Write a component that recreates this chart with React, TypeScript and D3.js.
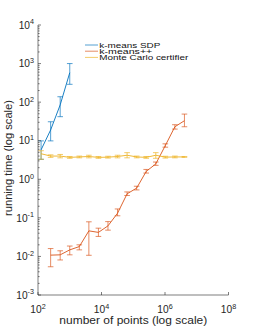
import React from "react";
import * as d3 from "d3";

const sdpN = [125, 250, 500, 1000];
const sdpT = [5.8, 19, 85, 580];
const sdpLo = [3.3, 9.9, 42, 290];
const sdpHi = [9.9, 31, 138, 1000];

const kppN = [250, 500, 1000, 2000, 4000, 8000, 16000, 32000, 64000, 128000, 256000, 512000, 1024000, 2048000, 4096000];
const kppT = [0.0108, 0.011, 0.0148, 0.018, 0.046, 0.042, 0.062, 0.132, 0.42, 0.59, 1.6, 2.5, 7.5, 23, 33];
const kppLo = [0.0054, 0.0081, 0.011, 0.0148, 0.0107, 0.033, 0.048, 0.113, 0.38, 0.53, 1.45, 2.3, 6.8, 20, 23];
const kppHi = [0.016, 0.014, 0.0186, 0.02, 0.079, 0.054, 0.08, 0.17, 0.47, 0.66, 1.8, 2.8, 8.3, 26, 49];

const mcN = [125, 250, 500, 1000, 2000, 4000, 8000, 16000, 32000, 64000, 128000, 256000, 512000, 1024000, 2048000, 4096000];
const mcT = [4.6, 4.0, 4.0, 3.7, 3.8, 3.9, 3.7, 3.75, 3.9, 4.2, 3.8, 3.7, 4.2, 3.75, 3.8, 3.8];
const mcLo = [3.3, 3.7, 3.6, 3.5, 3.6, 3.6, 3.5, 3.55, 3.6, 3.6, 3.6, 3.5, 3.5, 3.55, 3.6, 3.7];
const mcHi = [5.5, 4.3, 4.4, 3.9, 4.0, 4.2, 3.9, 3.95, 4.2, 4.9, 4.0, 3.9, 4.9, 3.95, 4.0, 3.9];

const xTickExps = [2, 4, 6, 8];
const yTickExps = [-3, -2, -1, 0, 1, 2, 3, 4];
const seriesNames = ["k-means SDP", "k-means++", "Monte Carlo certifier"];
const legendWidths = [61, 53, 89];
const seriesColors = ["#0072BD", "#D95319", "#EDB120"];

const FONT = "'Liberation Sans', Arial, Helvetica, sans-serif";

export default function App() {
  const x = d3.scaleLog().domain([1e2, 1e8]).range([38, 228.5]);
  const y = d3.scaleLog().domain([1e-3, 1e4]).range([295, 25]);
  const axisColor = "#262626";

  const series = [
    { n: sdpN, t: sdpT, lo: sdpLo, hi: sdpHi },
    { n: kppN, t: kppT, lo: kppLo, hi: kppHi },
    { n: mcN, t: mcT, lo: mcLo, hi: mcHi },
  ];

  const line = d3
    .line<[number, number]>()
    .x((d) => x(d[0]))
    .y((d) => y(d[1]));

  const minorY: number[] = [];
  for (let e = -3; e < 4; e++) {
    for (let k = 2; k <= 9; k++) minorY.push(k * Math.pow(10, e));
  }

  const cap = 2.8;

  return (
    <svg width={254} height={332} style={{ position: "absolute", left: 0, top: 0 }}>
      <rect width={254} height={332} fill="#fff" />
      {series.map((s, si) => (
        <g key={si} stroke={seriesColors[si]} fill="none" strokeWidth={0.9}>
          <path d={line(s.n.map((n, i) => [n, s.t[i]] as [number, number])) || ""} />
          {s.n.map((n, i) => {
            const cx = x(n);
            const y1 = y(s.lo[i]);
            const y2 = y(s.hi[i]);
            return (
              <g key={i} strokeOpacity={0.75}>
                <line x1={cx} x2={cx} y1={y1} y2={y2} />
                <line x1={cx - cap} x2={cx + cap} y1={y1} y2={y1} />
                <line x1={cx - cap} x2={cx + cap} y1={y2} y2={y2} />
              </g>
            );
          })}
        </g>
      ))}
      <g stroke={axisColor} strokeWidth={0.6} fill="none">
        <line x1={38} x2={38} y1={25} y2={295} />
        <line x1={38} x2={228.5} y1={295} y2={295} />
        {yTickExps.map((e) => (
          <line key={e} x1={38} x2={41} y1={y(Math.pow(10, e))} y2={y(Math.pow(10, e))} />
        ))}
        {minorY.map((v, i) => (
          <line key={i} x1={38} x2={39.6} y1={y(v)} y2={y(v)} />
        ))}
        {xTickExps.map((e) => (
          <line key={e} x1={x(Math.pow(10, e))} x2={x(Math.pow(10, e))} y1={295} y2={292} />
        ))}
      </g>
      <g fontFamily={FONT} fill={axisColor}>
        {yTickExps.map((e) => (
          <text key={e} x={34} y={y(Math.pow(10, e)) + 3.7} textAnchor="end" fontSize={10.2}>
            10
            <tspan dy={-4.3} fontSize={7.2}>{String(e)}</tspan>
          </text>
        ))}
        {xTickExps.map((e) => (
          <text key={e} x={x(Math.pow(10, e))} y={313} textAnchor="middle" fontSize={10.2}>
            10
            <tspan dy={-4.3} fontSize={7.2}>{String(e)}</tspan>
          </text>
        ))}
        <text x={133.3} y={324} textAnchor="middle" fontSize={10.6} textLength={148} lengthAdjust="spacingAndGlyphs">
          number of points (log scale)
        </text>
        <text
          transform="translate(12,158) rotate(-90)"
          textAnchor="middle"
          fontSize={10.6}
          textLength={116}
          lengthAdjust="spacingAndGlyphs"
        >
          running time (log scale)
        </text>
      </g>
      <g fontFamily={FONT} fontSize={8} fill="#111">
        {seriesNames.map((name, i) => {
          const ly = 45 + i * 6.2;
          return (
            <g key={name}>
              <line x1={85} x2={98} y1={ly} y2={ly} stroke={seriesColors[i]} strokeWidth={0.9} strokeOpacity={0.75} />
              <text x={99.3} y={ly + 2.9} textLength={legendWidths[i]} lengthAdjust="spacingAndGlyphs">{name}</text>
            </g>
          );
        })}
      </g>
    </svg>
  );
}
